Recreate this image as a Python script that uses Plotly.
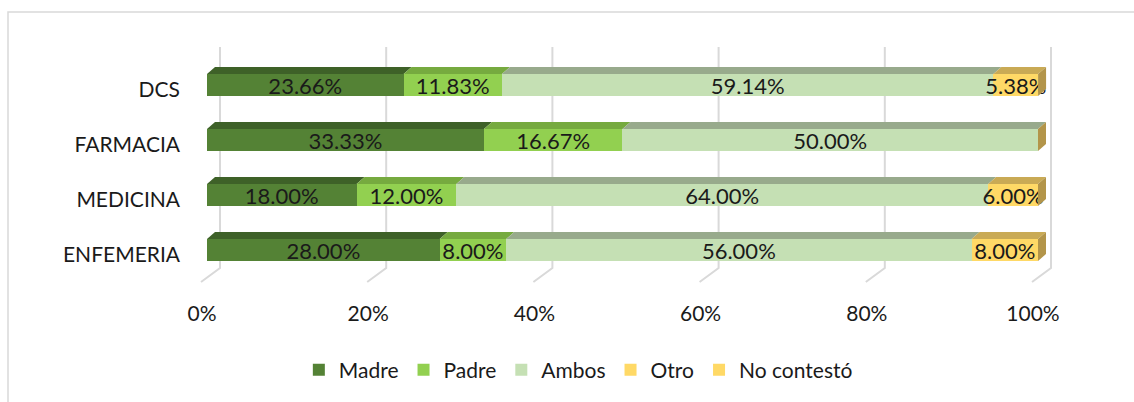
import plotly.graph_objects as go

# ---------------- data ----------------
categories = ["ENFEMERIA", "MEDICINA", "FARMACIA", "DCS"]
madre = [28.00, 18.00, 33.33, 23.66]
padre = [8.00, 12.00, 16.67, 11.83]
ambos = [56.00, 64.00, 50.00, 59.14]
otro = [8.00, 6.00, 0.00, 5.38]
no_contesto = [None, None, None, None]
series_names = ["Madre", "Padre", "Ambos", "Otro", "No contestó"]
x_ticks = [0, 20, 40, 60, 80, 100]

# ---------------- styling ----------------
front_colors = ["#548235", "#92d050", "#c5e0b4", "#ffd966", "#ffd966"]
top_colors = ["#3e6128", "#76aa3f", "#98aa8c", "#c9aa55", "#c9aa55"]
side_colors = ["#3a5a25", "#6c9c3a", "#8d9d82", "#b3954a", "#b3954a"]
FONT = "Lato"
TXT = "#1a1a1a"

W, H = 1134, 402
X0_PX, X100_PX = 207, 1038
PX_X = (X100_PX - X0_PX) / 100.0
XR = [-1.2, 103.0]
PX_Y = 55.0
Y0_PX = 250.0          # pixel of category index 0
YR = [-0.75, 3.9]
BAR_W = 0.4
DX = 8 / PX_X
DY = 7 / PX_Y


def ypix_to_data(p):
    return (Y0_PX - p) / PX_Y


series = [madre, padre, ambos, otro, no_contesto]
ypos = list(range(len(categories)))

fig = go.Figure()
for name, vals, col in zip(series_names, series, front_colors):
    fig.add_trace(go.Bar(
        name=name, y=ypos, x=vals, orientation="h", width=BAR_W,
        marker=dict(color=col, line=dict(width=0)),
        text=[(f"{v:.2f}%" if v else "") for v in vals],
        textposition="inside", insidetextanchor="middle",
        constraintext="none",
        textfont=dict(family=FONT, size=22, color=TXT),
        hoverinfo="skip",
    ))

shapes = []
# chart border
shapes.append(dict(type="rect", xref="paper", yref="paper",
                   x0=8 / W, x1=1.02, y0=-0.02, y1=(H - 12) / H,
                   line=dict(color="#d9d9d9", width=1.5), layer="below"))
# back-wall gridlines with floor diagonals
gtop = ypix_to_data(47)
gbot = ypix_to_data(268)
gfloor = ypix_to_data(282)
for v in x_ticks:
    xb = v + 13 / PX_X
    xf = v - 6 / PX_X
    shapes.append(dict(type="path", xref="x", yref="y",
                       path=f"M {xb},{gtop} L {xb},{gbot} L {xf},{gfloor}",
                       line=dict(color="#d9d9d9", width=2), layer="below"))

# 3D faces for bars
for i, _ in enumerate(categories):
    cum = 0.0
    last_idx = None
    for s, vals in enumerate(series):
        v = vals[i]
        if v is None:
            continue
        x0, x1 = cum, cum + v
        yt = i + BAR_W / 2
        if v > 0:
            shapes.append(dict(
                type="path", xref="x", yref="y",
                path=(f"M {x0},{yt} L {x1},{yt} L {x1 + DX},{yt + DY} "
                      f"L {x0 + DX},{yt + DY} Z"),
                fillcolor=top_colors[s], line=dict(width=0), layer="above"))
        cum = x1
        last_idx = s
    if last_idx is not None:
        yb = i - BAR_W / 2
        yt = i + BAR_W / 2
        shapes.append(dict(
            type="path", xref="x", yref="y",
            path=(f"M {cum},{yb} L {cum},{yt} L {cum + DX},{yt + DY} "
                  f"L {cum + DX},{yb + DY} Z"),
            fillcolor=side_colors[last_idx], line=dict(width=0), layer="above"))

fig.update_layout(
    width=W, height=H, barmode="stack",
    margin=dict(l=0, r=0, t=0, b=0, autoexpand=False),
    paper_bgcolor="white", plot_bgcolor="rgba(0,0,0,0)",
    font=dict(family=FONT, size=21, color=TXT),
    shapes=shapes,
    legend=dict(orientation="h", xanchor="center", x=0.51,
                yanchor="middle", y=(H - 370) / H,
                font=dict(family=FONT, size=21, color=TXT),
                traceorder="normal", itemclick=False),
    xaxis=dict(range=XR, domain=[(X0_PX + XR[0] * PX_X) / W, (X0_PX + XR[1] * PX_X) / W],
               tickvals=x_ticks, ticktext=[f"{t}%" for t in x_ticks],
               showgrid=False, zeroline=False, showline=False, ticks="",
               automargin=False,
               ticklabelshift=-5, ticklabelstandoff=8,
               tickfont=dict(family=FONT, size=21, color=TXT)),
    yaxis=dict(range=YR, domain=[(H - (Y0_PX - YR[0] * PX_Y)) / H, (H - (Y0_PX - YR[1] * PX_Y)) / H],
               tickvals=ypos, ticktext=categories,
               showgrid=False, zeroline=False, showline=False, ticks="",
               automargin=False,
               ticklabelstandoff=16, ticklabelshift=5,
               tickfont=dict(family=FONT, size=21, color=TXT)),
)

fig.write_html(
    "out.html",
    config={"displayModeBar": False},
    post_script="document.body.style.margin='0';document.body.style.overflow='hidden';",
)
